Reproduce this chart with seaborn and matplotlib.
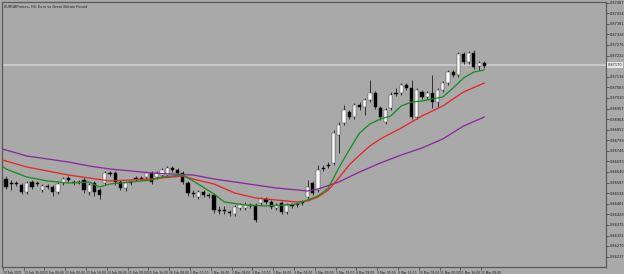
import matplotlib
matplotlib.use("Agg")
import matplotlib.pyplot as plt
import seaborn as sns
import pandas as pd
import numpy as np

# ---------------- data ----------------
title = "EURGBPmicro, H4: Euro vs Great Britain Pound"

opens = [0.86605,0.86585,0.86585,0.86575,0.86540,0.86590,0.86585,0.86550,0.86570,0.86565,
         0.86540,0.86585,0.86610,0.86590,0.86590,0.86600,0.86540,0.86585,0.86550,0.86585,
         0.86635,0.86635,0.86590,0.86560,0.86590,0.86610,0.86610,0.86615,0.86635,0.86615,
         0.86625,0.86625,0.86660,0.86650,0.86635,0.86585,0.86535,0.86515,0.86540,0.86525,
         0.86525,0.86450,0.86450,0.86440,0.86430,0.86460,0.86460,0.86475,0.86475,0.86485,
         0.86505,0.86490,0.86460,0.86485,0.86440,0.86475,0.86480,0.86490,0.86515,0.86585,
         0.86550,0.86660,0.86675,0.86685,0.86825,0.86885,0.86940,0.86915,0.86975,0.86965,
         0.87000,0.87035,0.86960,0.86890,0.86960,0.87035,0.87035,0.87075,0.87060,0.86915,
         0.87040,0.87015,0.87035,0.86990,0.87050,0.87085,0.87140,0.87125,0.87230,0.87190,
         0.87235,0.87170,0.87185]
closes = [0.86565,0.86580,0.86580,0.86540,0.86585,0.86565,0.86580,0.86570,0.86565,0.86540,
          0.86580,0.86605,0.86600,0.86585,0.86585,0.86550,0.86575,0.86540,0.86525,0.86635,
          0.86630,0.86590,0.86560,0.86585,0.86585,0.86605,0.86605,0.86635,0.86590,0.86635,
          0.86650,0.86660,0.86650,0.86635,0.86590,0.86535,0.86530,0.86540,0.86525,0.86520,
          0.86450,0.86445,0.86445,0.86435,0.86465,0.86475,0.86475,0.86470,0.86400,0.86505,
          0.86490,0.86465,0.86475,0.86440,0.86475,0.86470,0.86475,0.86485,0.86565,0.86535,
          0.86650,0.86655,0.86670,0.86835,0.86875,0.86950,0.86915,0.86975,0.86965,0.87000,
          0.87035,0.86965,0.86915,0.86950,0.87025,0.87030,0.87075,0.87060,0.86915,0.87050,
          0.87015,0.87035,0.86990,0.87050,0.87085,0.87140,0.87125,0.87230,0.87190,0.87235,
          0.87165,0.87185,0.87170]
highs = [0.86620,0.86600,0.86595,0.86585,0.86595,0.86600,0.86595,0.86580,0.86580,0.86575,
         0.86590,0.86615,0.86620,0.86600,0.86600,0.86610,0.86585,0.86595,0.86560,0.86645,
         0.86645,0.86645,0.86600,0.86595,0.86600,0.86620,0.86620,0.86645,0.86645,0.86645,
         0.86660,0.86670,0.86670,0.86660,0.86645,0.86595,0.86550,0.86550,0.86550,0.86535,
         0.86535,0.86470,0.86470,0.86450,0.86475,0.86485,0.86490,0.86485,0.86485,0.86515,
         0.86515,0.86500,0.86485,0.86495,0.86485,0.86485,0.86490,0.86500,0.86600,0.86595,
         0.86675,0.86675,0.86690,0.86850,0.86890,0.86975,0.86950,0.86985,0.86990,0.87010,
         0.87100,0.87045,0.86970,0.86960,0.87040,0.87060,0.87085,0.87085,0.87100,0.87060,
         0.87050,0.87045,0.87125,0.87060,0.87095,0.87150,0.87150,0.87240,0.87240,0.87245,
         0.87250,0.87195,0.87195]
lows = [0.86555,0.86550,0.86570,0.86530,0.86530,0.86555,0.86570,0.86540,0.86555,0.86520,
        0.86530,0.86575,0.86590,0.86575,0.86580,0.86535,0.86525,0.86520,0.86505,0.86575,
        0.86620,0.86575,0.86550,0.86545,0.86575,0.86595,0.86600,0.86605,0.86580,0.86605,
        0.86615,0.86615,0.86640,0.86625,0.86580,0.86520,0.86515,0.86505,0.86515,0.86510,
        0.86435,0.86430,0.86430,0.86420,0.86420,0.86450,0.86450,0.86460,0.86390,0.86475,
        0.86480,0.86455,0.86450,0.86430,0.86430,0.86460,0.86465,0.86475,0.86505,0.86525,
        0.86540,0.86645,0.86660,0.86675,0.86735,0.86875,0.86905,0.86905,0.86950,0.86925,
        0.86990,0.86955,0.86900,0.86880,0.86950,0.87020,0.87025,0.87050,0.86905,0.86905,
        0.87005,0.87005,0.86960,0.86965,0.87040,0.87075,0.87115,0.87115,0.87180,0.87180,
        0.87155,0.87150,0.87160]

ma_slow_idx = [-0.8,0,4,8,12,16,20,24,28,32,36,40,44,48,52,56,58,60,64,68,72,76,80,84,88,92]
ma_slow = [0.86755,0.86750,0.86720,0.86705,0.86690,0.86670,0.86655,0.86645,0.86635,0.86630,
           0.86625,0.86605,0.86590,0.86575,0.86560,0.86550,0.86545,0.86555,0.86590,0.86640,
           0.86685,0.86725,0.86760,0.86805,0.86870,0.86915]
ma_mid_idx = [-0.8,0,4,8,12,16,20,24,28,32,34,36,40,44,48,52,56,58,60,62,64,66,68,70,72,76,80,84,88,92]
ma_mid = [0.86700,0.86695,0.86665,0.86645,0.86625,0.86610,0.86595,0.86600,0.86605,0.86615,
          0.86620,0.86605,0.86580,0.86535,0.86510,0.86500,0.86490,0.86495,0.86515,0.86550,
          0.86610,0.86675,0.86725,0.86770,0.86805,0.86860,0.86920,0.86970,0.87040,0.87085]
ma_fast_idx = [-0.8,0,4,8,12,16,18,20,24,28,30,34,36,40,42,46,50,54,56,58,60,62,64,66,68,70,
               72,74,76,78,80,82,84,86,88,90,92]
ma_fast = [0.86670,0.86655,0.86615,0.86595,0.86585,0.86590,0.86565,0.86580,0.86590,0.86600,
           0.86615,0.86625,0.86595,0.86530,0.86490,0.86475,0.86470,0.86475,0.86480,0.86500,
           0.86520,0.86560,0.86660,0.86750,0.86835,0.86880,0.86905,0.86920,0.86970,0.86990,
           0.86995,0.87005,0.87015,0.87060,0.87110,0.87140,0.87150]

y_ticks = [0.87487,0.87434,0.87381,0.87328,0.87275,0.87222,0.87116,0.87063,0.87010,
           0.86957,0.86904,0.86852,0.86799,0.86746,0.86693,0.86640,0.86587,0.86534,0.86481,
           0.86428,0.86375,0.86322,0.86270,0.86217]
current_price = 0.87170

x_tick_pos = [0,4,8,12,16,20,24,28,32,36,40,44,48,52,56,60,64,68,72,76,80,84,88,92]
x_tick_labels = ["19 Feb 2021","19 Feb 16:00","22 Feb 08:00","23 Feb 00:00","23 Feb 16:00",
                 "24 Feb 08:00","25 Feb 00:00","25 Feb 16:00","26 Feb 08:00","1 Mar 00:00",
                 "1 Mar 16:00","2 Mar 08:00","3 Mar 00:00","3 Mar 16:00","4 Mar 08:00",
                 "5 Mar 00:00","5 Mar 16:00","8 Mar 08:00","9 Mar 00:00","9 Mar 16:00",
                 "10 Mar 08:00","11 Mar 00:00","11 Mar 16:00","12 Mar 08:00"]

# ---------------- style ----------------
BG = "#a9a9a9"
sns.set_theme(style="white")
plt.rcParams["font.family"] = ["Liberation Sans Narrow", "DejaVu Sans"]
FS = 2.5
FSX = 2.2

fig = plt.figure(figsize=(6.24, 2.74), dpi=100, facecolor=BG)
ax = fig.add_axes([2/624, 7/274, 604/624, 265/274])
ax.set_facecolor(BG)

df = pd.DataFrame({"i": np.arange(len(opens)), "o": opens, "h": highs, "l": lows, "c": closes})
up = df[df.c >= df.o]
dn = df[df.c < df.o]

# wicks
ax.vlines(df.i, df.l, df.h, color="#101010", lw=0.55, zorder=2)
# bodies
min_h = 0.00004
ax.bar(up.i, np.maximum(up.c - up.o, min_h), bottom=up.o, width=0.6,
       color="white", edgecolor="#303030", linewidth=0.3, zorder=3)
ax.bar(dn.i, np.maximum(dn.o - dn.c, min_h), bottom=dn.c, width=0.6,
       color="black", edgecolor="black", linewidth=0.3, zorder=3)

# moving averages
sns.lineplot(x=ma_slow_idx, y=ma_slow, ax=ax, color="#8b2a9c", lw=0.95, zorder=4)
sns.lineplot(x=ma_mid_idx, y=ma_mid, ax=ax, color="#e8262b", lw=0.95, zorder=4)
sns.lineplot(x=ma_fast_idx, y=ma_fast, ax=ax, color="#1f8a26", lw=0.95, zorder=4)

# current price line
ax.axhline(current_price + 0.00005, color="#cfcfcf", lw=1.2, zorder=1)

ax.set_xlim(-0.77, 115.4)
ax.set_ylim(0.86165, 0.87490)

# axes frame
for s in ax.spines.values():
    s.set_color("#5a5a5a")
    s.set_linewidth(0.9)

ax.yaxis.tick_right()
ax.set_yticks(y_ticks)
ax.set_yticklabels([f"{v:.5f}" for v in y_ticks])
ax.tick_params(axis="y", which="both", right=True, left=False, length=2, width=0.5,
               color="#3a3a3a", labelsize=FS, labelcolor="#1a1a1a", pad=1.0)

ax.set_xticks([p - 0.6 for p in x_tick_pos])
ax.set_xticklabels(x_tick_labels, ha="left")
ax.tick_params(axis="x", which="both", bottom=True, length=2, width=0.5,
               color="#3a3a3a", labelsize=FSX, labelcolor="#1a1a1a", pad=0.8)
for lbl in ax.get_xticklabels():
    lbl.set_horizontalalignment("left")

# price box on right axis
ax.text(1.003, current_price + 0.00005, f"{current_price:.5f}", transform=ax.get_yaxis_transform(),
        fontsize=FS, color="#1a1a1a", va="center", ha="left",
        bbox=dict(boxstyle="square,pad=0.25", fc="#e6e6e6", ec="none"), clip_on=False)

# title
ax.text(0.004, 0.988, title, transform=ax.transAxes, fontsize=FS, color="#1a1a1a",
        va="top", ha="left")

ax.grid(False)
fig.savefig("out.png", dpi=100, facecolor=BG)
